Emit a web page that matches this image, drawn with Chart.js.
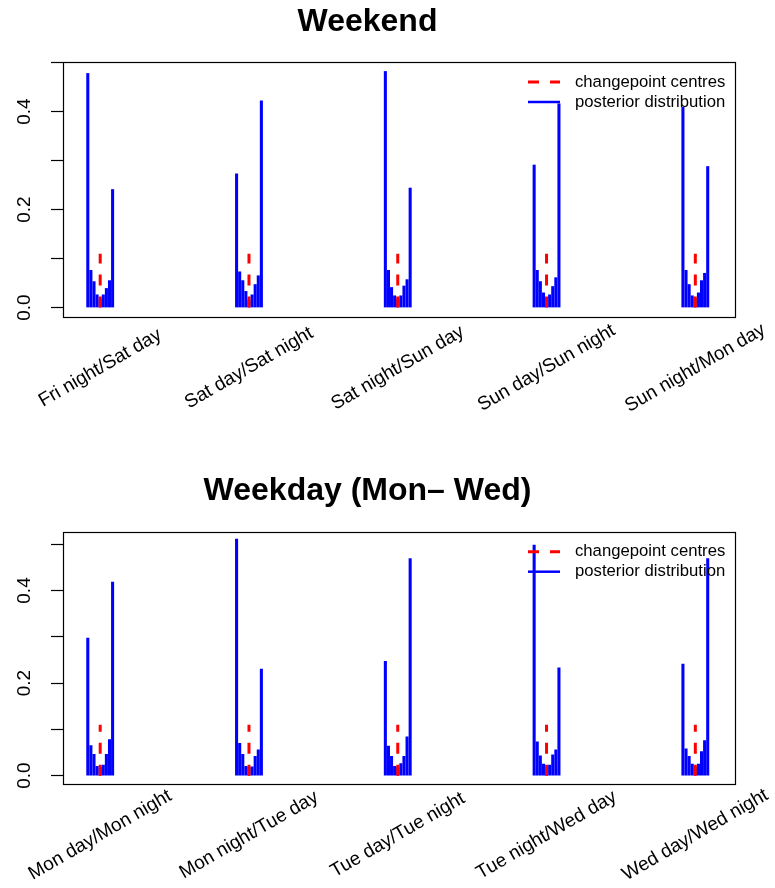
<!DOCTYPE html>
<html>
<head>
<meta charset="utf-8">
<script src="https://cdn.jsdelivr.net/npm/chart.js@4/dist/chart.umd.min.js"></script>
<style>
  body { margin: 0; background: #fff; }
  #wrap { position: relative; width: 775px; height: 888px; }
  canvas { position: absolute; left: 0; }
</style>
</head>
<body>
<div id="wrap">
  <canvas id="weekendChart" width="775" height="444" style="top:0"></canvas>
  <canvas id="weekdayChart" width="775" height="419" style="top:469px"></canvas>
</div>
<script>
// changepoint centres (hours) and the offsets of the 9 posterior bars around each centre
const groupCentres = [0, 12, 24, 36, 48];
const barOffsets = [-1, -0.75, -0.5, -0.25, 0, 0.25, 0.5, 0.75, 1];
const centreHeight = [0.11, 0.11, 0.11, 0.11, 0.11];

const weekendLabels = ["Fri night/Sat day", "Sat day/Sat night", "Sat night/Sun day", "Sun day/Sun night", "Sun night/Mon day"];
const weekdayLabels = ["Mon day/Mon night", "Mon night/Tue day", "Tue day/Tue night", "Tue night/Wed day", "Wed day/Wed night"];

const weekendPosterior = [
  [0.478, 0.076, 0.053, 0.026, 0.018, 0.026, 0.039, 0.055, 0.241],
  [0.273, 0.073, 0.055, 0.033, 0.015, 0.026, 0.047, 0.065, 0.422],
  [0.482, 0.076, 0.041, 0.024, 0.018, 0.024, 0.044, 0.057, 0.244],
  [0.291, 0.076, 0.053, 0.030, 0.018, 0.026, 0.043, 0.061, 0.416],
  [0.409, 0.076, 0.047, 0.024, 0.018, 0.030, 0.055, 0.070, 0.288]
];
const weekdayPosterior = [
  [0.297, 0.065, 0.046, 0.020, 0.018, 0.023, 0.046, 0.078, 0.418],
  [0.511, 0.070, 0.046, 0.020, 0.018, 0.019, 0.042, 0.056, 0.230],
  [0.247, 0.064, 0.042, 0.020, 0.018, 0.026, 0.042, 0.084, 0.469],
  [0.498, 0.073, 0.043, 0.025, 0.018, 0.023, 0.045, 0.056, 0.233],
  [0.241, 0.058, 0.042, 0.025, 0.018, 0.025, 0.052, 0.076, 0.469]
];

const yTickValues = [0, 0.1, 0.2, 0.3, 0.4, 0.5];
const yTickLabels = ["0.0", "", "0.2", "", "0.4", ""];
const legendLabels = ["changepoint centres", "posterior distribution"];

const FONT = "'Liberation Sans', Arial, Helvetica, sans-serif";
const AXIS_SIZE = 19;
Chart.defaults.font.family = FONT;
Chart.defaults.color = "#000";

// R style box around the plot region
const boxPlugin = {
  id: "box",
  afterDraw(chart) {
    const a = chart.chartArea;
    const ctx = chart.ctx;
    ctx.save();
    ctx.strokeStyle = "#000";
    ctx.lineWidth = 1.2;
    ctx.strokeRect(Math.round(a.left) + 0.5, Math.round(a.top) + 0.5, Math.round(a.right - a.left), Math.round(a.bottom - a.top));
    ctx.restore();
  }
};

// rotated group labels, centred under each changepoint
const groupLabelPlugin = {
  id: "groupLabels",
  afterDraw(chart, args, opts) {
    const ctx = chart.ctx;
    const xs = chart.scales.x;
    ctx.save();
    ctx.font = AXIS_SIZE + "px " + FONT;
    ctx.fillStyle = "#000";
    ctx.textAlign = "center";
    ctx.textBaseline = "middle";
    opts.labels.forEach((lab, i) => {
      ctx.save();
      ctx.translate(xs.getPixelForValue(groupCentres[i]), chart.chartArea.bottom + 51);
      ctx.rotate(-Math.PI / 6);
      ctx.fillText(lab, 0, 0);
      ctx.restore();
    });
    ctx.restore();
  }
};

const legendPlugin = {
  id: "rLegend",
  afterDraw(chart) {
    const ctx = chart.ctx;
    const a = chart.chartArea;
    const x0 = a.right - 207, x1 = a.right - 175;
    ctx.save();
    ctx.lineCap = "butt";
    // red dashed
    ctx.strokeStyle = "#ff0000";
    ctx.lineWidth = 3;
    ctx.setLineDash([11, 11]);
    ctx.beginPath();
    ctx.moveTo(x0, a.top + 20);
    ctx.lineTo(x1, a.top + 20);
    ctx.stroke();
    // blue solid
    ctx.setLineDash([]);
    ctx.strokeStyle = "#0000ff";
    ctx.lineWidth = 2.5;
    ctx.beginPath();
    ctx.moveTo(x0, a.top + 40);
    ctx.lineTo(x1, a.top + 40);
    ctx.stroke();
    ctx.font = "16.7px " + FONT;
    ctx.fillStyle = "#000";
    ctx.textAlign = "left";
    ctx.textBaseline = "middle";
    ctx.fillText(legendLabels[0], a.right - 160, a.top + 20);
    ctx.fillText(legendLabels[1], a.right - 160, a.top + 40);
    ctx.restore();
  }
};

function makeChart(id, title, posterior, labels, yMin, yMax, titleBottom, padBottom) {
  const barData = groupCentres.flatMap((c, g) => barOffsets.map((o, k) => ({ x: c + o, y: posterior[g][k] })));
  const centreData = groupCentres.flatMap((c, g) => [{ x: c, y: 0 }, { x: c, y: centreHeight[g] }, { x: c, y: null }]);

  return new Chart(document.getElementById(id), {
    type: "bar",
    data: {
      datasets: [
        {
          type: "line",
          label: legendLabels[0],
          data: centreData,
          borderColor: "#ff0000",
          borderWidth: 3,
          borderDash: [11, 11],
          borderCapStyle: "butt",
          pointRadius: 0,
          spanGaps: false,
          order: 0
        },
        {
          label: legendLabels[1],
          data: barData,
          backgroundColor: "#0000ff",
          barThickness: 2.4,
          order: 1
        }
      ]
    },
    options: {
      responsive: false,
      animation: false,
      devicePixelRatio: 1,
      events: [],
      layout: { padding: { left: 0, right: 40, top: 0, bottom: padBottom } },
      plugins: {
        legend: { display: false },
        tooltip: { enabled: false },
        title: {
          display: true,
          text: title,
          color: "#000",
          font: { size: 32, weight: "bold", family: FONT },
          padding: { top: 2.8, bottom: titleBottom }
        },
        groupLabels: { labels: labels }
      },
      scales: {
        x: {
          type: "linear",
          display: false,
          min: -3,
          max: 51.2,
          offset: false
        },
        y: {
          type: "linear",
          min: yMin,
          max: yMax,
          afterFit: s => { s.width = 63; },
          afterBuildTicks: s => { s.ticks = yTickValues.map(v => ({ value: v })); },
          border: { display: false },
          grid: {
            drawOnChartArea: false,
            drawTicks: true,
            tickLength: 12,
            tickColor: "#000",
            tickWidth: 1.2
          },
          ticks: {
            autoSkip: false,
            minRotation: 90,
            maxRotation: 90,
            crossAlign: "center",
            padding: 13.3,
            color: "#000",
            font: { size: AXIS_SIZE, family: FONT },
            callback: (v, i) => yTickLabels[i]
          }
        }
      }
    },
    plugins: [boxPlugin, groupLabelPlugin, legendPlugin]
  });
}

makeChart("weekendChart", "Weekend", weekendPosterior, weekendLabels, -0.0193, 0.5013, 20.8, 127);
makeChart("weekdayChart", "Weekday (Mon\u2013 Wed)", weekdayPosterior, weekdayLabels, -0.018, 0.527, 21.5, 104);
</script>
</body>
</html>
